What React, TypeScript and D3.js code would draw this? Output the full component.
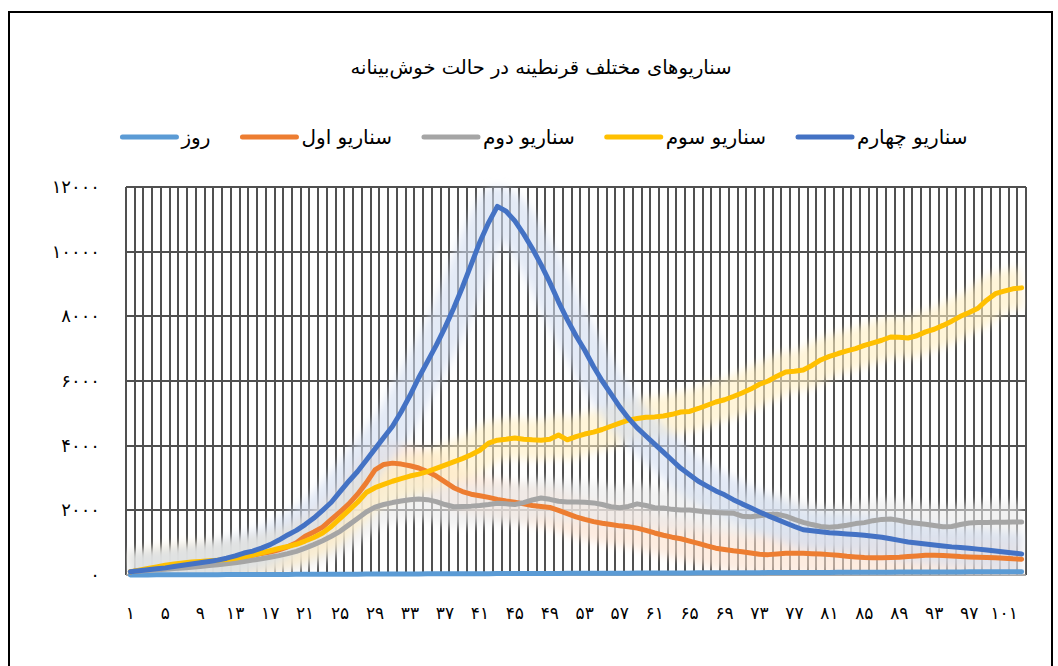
import React, { useRef, useEffect } from 'react';
import * as d3 from 'd3';

// categories (day numbers)
const days = [
  1, 2, 3, 4, 5, 6, 7, 8, 9, 10, 11, 12, 13, 14, 15, 16, 17, 18, 19, 20,
  21, 22, 23, 24, 25, 26, 27, 28, 29, 30, 31, 32, 33, 34, 35, 36, 37, 38, 39, 40,
  41, 42, 43, 44, 45, 46, 47, 48, 49, 50, 51, 52, 53, 54, 55, 56, 57, 58, 59, 60,
  61, 62, 63, 64, 65, 66, 67, 68, 69, 70, 71, 72, 73, 74, 75, 76, 77, 78, 79, 80,
  81, 82, 83, 84, 85, 86, 87, 88, 89, 90, 91, 92, 93, 94, 95, 96, 97, 98, 99, 100,
  101, 102, 103,
];

// the "روز" series holds the day number itself
const dayValues = days;

const scenario1 = [
  100, 130, 160, 190, 220, 260, 300, 340, 380, 410,
  440, 480, 520, 560, 610, 660, 710, 780, 870, 1000,
  1200, 1330, 1480, 1720, 1950, 2200, 2500, 2850, 3250, 3420,
  3460, 3430, 3380, 3310, 3200, 3060, 2880, 2700, 2580, 2500,
  2450, 2400, 2340, 2290, 2250, 2200, 2150, 2120, 2090, 2000,
  1900, 1800, 1720, 1650, 1600, 1560, 1520, 1490, 1450, 1380,
  1300, 1230, 1170, 1120, 1050, 980, 900, 830, 790, 750,
  720, 680, 640, 630, 650, 670, 670, 670, 660, 650,
  630, 610, 580, 560, 540, 530, 530, 540, 550, 570,
  590, 610, 610, 600, 590, 570, 560, 550, 540, 530,
  520, 500, 490,
];

const scenario2 = [
  100, 120, 140, 160, 180, 200, 220, 240, 260, 290,
  320, 350, 380, 420, 460, 500, 550, 600, 660, 730,
  830, 940, 1060, 1200, 1350, 1550, 1750, 1950, 2100, 2180,
  2240, 2290, 2330, 2350, 2330, 2270, 2180, 2110, 2120, 2130,
  2150, 2180, 2220, 2200, 2180, 2240, 2320, 2380, 2340, 2280,
  2260, 2260, 2250, 2230, 2180, 2110, 2080, 2120, 2200, 2150,
  2080, 2070, 2030, 2010, 2010, 1980, 1950, 1930, 1920, 1910,
  1820, 1800, 1830, 1870, 1880, 1820, 1720, 1630, 1560, 1500,
  1480, 1500, 1540, 1590, 1620, 1680, 1720, 1730, 1690, 1630,
  1600, 1570, 1530, 1490, 1500, 1560, 1610, 1620, 1620, 1630,
  1630, 1640, 1640,
];

const scenario3 = [
  100, 150, 200, 250, 300, 340, 370, 400, 420, 440,
  460, 480, 520, 560, 620, 680, 750, 820, 880, 950,
  1050, 1160, 1300, 1500, 1750, 2000, 2250, 2550, 2700, 2800,
  2900, 2980, 3060, 3120, 3200, 3300, 3400, 3500, 3600, 3720,
  3860, 4080, 4170, 4200, 4240, 4200, 4180, 4170, 4200, 4330,
  4180, 4280, 4360, 4420, 4500, 4600, 4700, 4790, 4840, 4880,
  4890, 4920, 4970, 5040, 5060, 5150, 5250, 5350, 5420, 5520,
  5630, 5750, 5900, 6000, 6150, 6280, 6300, 6340, 6480, 6650,
  6760, 6850, 6930, 7000, 7100, 7180, 7260, 7360, 7350, 7330,
  7400, 7520, 7600, 7720, 7850, 8000, 8120, 8250, 8500, 8700,
  8780, 8850, 8880,
];

const scenario4 = [
  100, 130, 160, 190, 220, 260, 300, 340, 380, 420,
  460, 520, 590, 680, 740, 830, 940, 1080, 1240, 1380,
  1560, 1760, 2000, 2250, 2580, 2900, 3200, 3550, 3900, 4250,
  4600, 5050, 5550, 6100, 6600, 7100, 7650, 8250, 8900, 9600,
  10300, 10900, 11400, 11250, 10950, 10550, 10100, 9600, 9050, 8450,
  7900, 7400, 6950, 6450, 6000, 5600, 5200, 4850, 4550, 4300,
  4050, 3800, 3550, 3300, 3100, 2900, 2750, 2600, 2480, 2330,
  2200, 2080, 1950, 1830, 1720, 1610, 1500, 1400, 1370, 1340,
  1310, 1290, 1270, 1250, 1230, 1200, 1170, 1120, 1070, 1020,
  990, 960, 930, 900, 870, 850, 830, 800, 770, 740,
  710, 680, 650,
];

const seriesNames = ['روز', 'سناریو اول', 'سناریو دوم', 'سناریو سوم', 'سناریو چهارم'];
const seriesColors = ['#5B9BD5', '#ED7D31', '#A5A5A5', '#FFC000', '#4472C4'];
const seriesValues = [dayValues, scenario1, scenario2, scenario3, scenario4];

const yTicks = [0, 2000, 4000, 6000, 8000, 10000, 12000];
const chartTitle = 'سناریوهای مختلف قرنطینه در حالت خوش‌بینانه';

const FONT = '"DejaVu Sans", sans-serif';

const toPersian = (v: number | string) =>
  String(v).replace(/\d/g, (d) => '۰۱۲۳۴۵۶۷۸۹'[+d]);

const Chart: React.FC = () => {
  const svgRef = useRef<SVGSVGElement>(null);
  const width = 1058;
  const height = 666;

  useEffect(() => {
    if (!svgRef.current) return;
    const root = d3.select(svgRef.current);
    root.selectAll('*').remove();

    const left = 126;
    const right = 1026;
    const top = 187;
    const bottom = 575;

    const defs = root.append('defs');
    defs
      .append('filter')
      .attr('id', 'glow-blur')
      .attr('x', '-20%')
      .attr('y', '-20%')
      .attr('width', '140%')
      .attr('height', '140%')
      .append('feGaussianBlur')
      .attr('stdDeviation', 4);
    defs
      .append('clipPath')
      .attr('id', 'plot-clip')
      .append('rect')
      .attr('x', left)
      .attr('y', top - 30)
      .attr('width', right - left)
      .attr('height', bottom - top + 30);

    // white page + outer frame
    root.append('rect').attr('width', width).attr('height', height).attr('fill', '#fff');
    root
      .append('rect')
      .attr('x', 9)
      .attr('y', 12)
      .attr('width', 1043)
      .attr('height', 700)
      .attr('fill', 'none')
      .attr('stroke', '#000')
      .attr('stroke-width', 2);

    // title
    root
      .append('text')
      .attr('x', 541)
      .attr('y', 74)
      .attr('text-anchor', 'middle')
      .style('font-family', FONT)
      .style('font-size', '19.5px')
      .attr('fill', '#000')
      .text(chartTitle);

    const xScale = d3.scaleBand<number>().domain(days).range([left, right]).padding(0);
    const yScale = d3.scaleLinear().domain([0, 12000]).range([bottom, top]);
    const xc = (d: number) => (xScale(d) || 0) + xScale.bandwidth() / 2;

    // grid
    const grid = root.append('g');
    const bounds = days.map((d) => Math.round(xScale(d) || 0)).concat([right]);
    grid
      .selectAll('.vgrid')
      .data(bounds)
      .enter()
      .append('line')
      .attr('x1', (d) => d)
      .attr('x2', (d) => d)
      .attr('y1', top)
      .attr('y2', bottom)
      .attr('stroke', '#505050')
      .attr('stroke-width', 2);
    grid
      .selectAll('.hgrid')
      .data(yTicks.slice(1))
      .enter()
      .append('line')
      .attr('x1', left)
      .attr('x2', right)
      .attr('y1', (d) => Math.round(yScale(d)))
      .attr('y2', (d) => Math.round(yScale(d)))
      .attr('stroke', '#505050')
      .attr('stroke-width', 2);
    grid
      .append('line')
      .attr('x1', left)
      .attr('x2', right)
      .attr('y1', bottom)
      .attr('y2', bottom)
      .attr('stroke', '#8c8c8c')
      .attr('stroke-width', 1.5);

    // y labels
    root
      .append('g')
      .selectAll('text')
      .data(yTicks)
      .enter()
      .append('text')
      .attr('x', 100)
      .attr('y', (d) => yScale(d) + 6)
      .attr('text-anchor', 'end')
      .style('font-family', FONT)
      .style('font-size', '18px')
      .attr('fill', '#000')
      .text((d) => toPersian(d));

    // x labels, every 4th day
    root
      .append('g')
      .selectAll('text')
      .data(days.filter((_, i) => i % 4 === 0))
      .enter()
      .append('text')
      .attr('x', (d) => xc(d))
      .attr('y', 619)
      .attr('text-anchor', 'middle')
      .style('font-family', FONT)
      .style('font-size', '17px')
      .attr('fill', '#000')
      .text((d) => toPersian(d));

    const line = d3
      .line<number>()
      .x((_, i) => xc(days[i]))
      .y((d) => yScale(d));

    // glow halos
    const glows = root
      .append('g')
      .attr('clip-path', 'url(#plot-clip)')
      .append('g')
      .attr('filter', 'url(#glow-blur)');
    seriesValues.forEach((vals, i) => {
      if (i === 0) return;
      glows
        .append('path')
        .datum(vals)
        .attr('d', line)
        .attr('fill', 'none')
        .attr('stroke', d3.interpolateRgb(seriesColors[i], '#fff')(0.75))
        .attr('stroke-width', 40)
        .attr('stroke-linejoin', 'round')
        .attr('stroke-linecap', 'butt')
        .attr('opacity', 0.6);
    });

    // series lines
    seriesValues.forEach((vals, i) => {
      root
        .append('path')
        .datum(vals)
        .attr('d', line)
        .attr('fill', 'none')
        .attr('stroke', seriesColors[i])
        .attr('stroke-width', 5)
        .attr('stroke-linejoin', 'round')
        .attr('stroke-linecap', 'round');
    });

    // legend, laid out from measured text widths
    const legend = root.append('g');
    const items = seriesNames.map((name, i) => {
      const g = legend.append('g');
      g.append('line')
        .attr('x1', 0)
        .attr('x2', 54)
        .attr('y1', 0)
        .attr('y2', 0)
        .attr('stroke', seriesColors[i])
        .attr('stroke-width', 5)
        .attr('stroke-linecap', 'round');
      const t = g
        .append('text')
        .attr('x', 59)
        .attr('y', 7)
        .style('font-family', FONT)
        .style('font-size', '20px')
        .attr('fill', '#000')
        .text(name);
      const w = 59 + (t.node() as SVGTextElement).getComputedTextLength();
      return { g, w };
    });
    const gap = 32;
    const total = d3.sum(items, (d) => d.w) + gap * (items.length - 1);
    let cx = 545 - total / 2;
    items.forEach((it) => {
      it.g.attr('transform', `translate(${cx},137)`);
      cx += it.w + gap;
    });
  }, []);

  return <svg ref={svgRef} width={width} height={height} style={{ display: 'block' }} />;
};

export default function App() {
  return (
    <div>
      <style>{'body{margin:0;}'}</style>
      <Chart />
    </div>
  );
}
